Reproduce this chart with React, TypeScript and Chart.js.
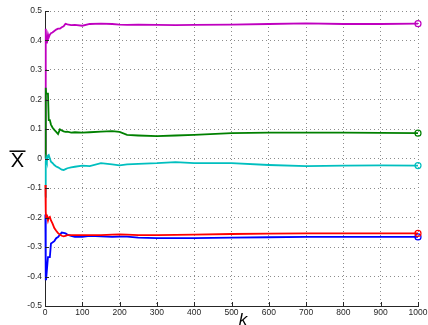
import React, { useEffect, useRef } from 'react';
import { Chart, registerables } from 'chart.js';

Chart.register(...registerables);

const kValues = [1, 2, 3, 5, 8, 10, 13, 16, 20, 25, 30, 35, 40, 45, 50, 55, 60, 70, 80, 100, 120, 150, 180, 200, 220, 250, 300, 350, 400, 500, 600, 700, 800, 900, 1000];

const magentaSeries = [0.0, 0.44, 0.41, 0.39, 0.42, 0.41, 0.42, 0.425, 0.427, 0.432, 0.437, 0.44, 0.44, 0.445, 0.448, 0.457, 0.455, 0.452, 0.453, 0.45, 0.456, 0.457, 0.456, 0.454, 0.453, 0.454, 0.453, 0.452, 0.453, 0.454, 0.456, 0.458, 0.456, 0.456, 0.457];
const greenSeries = [0.0, 0.24, 0.22, 0.22, 0.22, 0.13, 0.13, 0.115, 0.105, 0.097, 0.09, 0.083, 0.099, 0.095, 0.092, 0.09, 0.091, 0.088, 0.089, 0.088, 0.089, 0.091, 0.093, 0.09, 0.08, 0.078, 0.076, 0.078, 0.08, 0.086, 0.088, 0.088, 0.088, 0.087, 0.086];
const cyanSeries = [-0.13, -0.01, 0.0, -0.01, 0.01, 0.012, 0.0, -0.011, -0.015, -0.022, -0.027, -0.03, -0.034, -0.038, -0.039, -0.036, -0.033, -0.03, -0.028, -0.024, -0.026, -0.016, -0.02, -0.023, -0.02, -0.018, -0.016, -0.012, -0.016, -0.016, -0.022, -0.026, -0.024, -0.023, -0.024];
const redSeries = [-0.09, -0.18, -0.2, -0.19, -0.21, -0.2, -0.198, -0.21, -0.22, -0.236, -0.245, -0.253, -0.258, -0.262, -0.264, -0.262, -0.26, -0.26, -0.26, -0.26, -0.26, -0.26, -0.258, -0.257, -0.258, -0.26, -0.26, -0.259, -0.258, -0.256, -0.255, -0.254, -0.254, -0.254, -0.254];
const blueSeries = [-0.19, -0.41, -0.41, -0.41, -0.334, -0.334, -0.334, -0.288, -0.285, -0.28, -0.27, -0.266, -0.258, -0.251, -0.252, -0.254, -0.258, -0.262, -0.266, -0.266, -0.262, -0.264, -0.266, -0.265, -0.265, -0.268, -0.27, -0.27, -0.27, -0.268, -0.267, -0.266, -0.266, -0.266, -0.266];

const xTicks = [0, 100, 200, 300, 400, 500, 600, 700, 800, 900, 1000];
const yTicks = [-0.5, -0.4, -0.3, -0.2, -0.1, 0, 0.1, 0.2, 0.3, 0.4, 0.5];

const xAxisLabel = 'k';
const yAxisLabel = 'X';

const TEXT = '#262626';

export default function App() {
  const ref = useRef<HTMLCanvasElement>(null);

  useEffect(() => {
    if (!ref.current) return;
    const last = kValues.length - 1;
    const mk = (vals: number[], color: string, label: string) => ({
      label,
      data: kValues.map((k, i) => ({ x: k, y: vals[i] })),
      borderColor: color,
      backgroundColor: color,
      borderWidth: 1.8,
      pointRadius: kValues.map((_, i) => (i === last ? 3 : 0)),
      pointHoverRadius: 0,
      pointBorderColor: color,
      pointBackgroundColor: 'rgba(0,0,0,0)',
      pointBorderWidth: 1.2,
      tension: 0,
      fill: false,
      clip: false as any,
    });

    const decor = {
      id: 'decor',
      afterDraw(chart: any) {
        const { ctx, chartArea } = chart;
        const { left, bottom } = chartArea;
        const xs = chart.scales.x;
        const ys = chart.scales.y;
        ctx.save();
        ctx.strokeStyle = TEXT;
        ctx.lineWidth = 1;
        ctx.beginPath();
        xTicks.forEach((v) => {
          const px = Math.round(xs.getPixelForValue(v)) + 0.5;
          ctx.moveTo(px, bottom);
          ctx.lineTo(px, bottom - 4);
        });
        yTicks.forEach((v) => {
          const py = Math.round(ys.getPixelForValue(v)) + 0.5;
          ctx.moveTo(left, py);
          ctx.lineTo(left + 4, py);
        });
        ctx.stroke();

        // y label: X with overbar
        ctx.fillStyle = '#000';
        ctx.font = '20px "Liberation Sans", Arial, sans-serif';
        ctx.textAlign = 'center';
        ctx.textBaseline = 'alphabetic';
        ctx.fillText(yAxisLabel, 17.5, 167);
        ctx.strokeStyle = '#000';
        ctx.lineWidth = 1.5;
        ctx.beginPath();
        ctx.moveTo(9.5, 151.2);
        ctx.lineTo(25.5, 151.2);
        ctx.stroke();

        // x label
        ctx.font = 'italic 17px "Liberation Sans", Arial, sans-serif';
        ctx.fillText(xAxisLabel, 243, 324.5);
        ctx.restore();
      },
    };

    const chart = new Chart(ref.current, {
      type: 'line',
      data: {
        datasets: [
          mk(redSeries, '#ff0000', 'r'),
          mk(blueSeries, '#0000ff', 'b'),
          mk(cyanSeries, '#00bfbf', 'c'),
          mk(greenSeries, '#008000', 'g'),
          mk(magentaSeries, '#bf00bf', 'm'),
        ],
      },
      options: {
        responsive: false,
        animation: false,
        devicePixelRatio: 1,
        layout: { padding: { top: 11, right: 10, left: 0, bottom: 0 } },
        plugins: { legend: { display: false }, tooltip: { enabled: false } },
        scales: {
          x: {
            type: 'linear',
            min: 0,
            max: 1000,
            afterBuildTicks: (s: any) => {
              s.ticks = xTicks.map((v) => ({ value: v }));
            },
            afterFit: (s: any) => {
              s.height = 19;
              s.paddingLeft = 0;
              s.paddingRight = 0;
            },
            ticks: {
              color: TEXT,
              font: { family: '"Liberation Sans", Arial, sans-serif', size: 8.5 },
              padding: 2,
              maxRotation: 0,
              autoSkip: false,
              callback: (v: any) => String(v),
            },
            grid: { color: 'rgba(0,0,0,0.45)', lineWidth: 1, drawTicks: false },
            border: { display: true, color: TEXT, width: 1, dash: [1, 3] },
          },
          y: {
            type: 'linear',
            min: -0.5,
            max: 0.5,
            afterBuildTicks: (s: any) => {
              s.ticks = yTicks.map((v) => ({ value: v }));
            },
            afterFit: (s: any) => {
              s.width = 45;
              s.paddingTop = 0;
              s.paddingBottom = 0;
            },
            ticks: {
              color: TEXT,
              font: { family: '"Liberation Sans", Arial, sans-serif', size: 8.5 },
              padding: 3,
              autoSkip: false,
              callback: (v: any) => (Math.abs(v) < 1e-9 ? '0' : Number(v).toFixed(1)),
            },
            grid: { color: 'rgba(0,0,0,0.45)', lineWidth: 1, drawTicks: false },
            border: { display: true, color: TEXT, width: 1, dash: [1, 3] },
          },
        },
      },
      plugins: [decor],
    });
    return () => chart.destroy();
  }, []);

  return (
    <div style={{ position: 'fixed', left: 0, top: 0, width: 428, height: 325, background: '#fff' }}>
      <canvas ref={ref} width={428} height={325} style={{ display: 'block' }} />
    </div>
  );
}
